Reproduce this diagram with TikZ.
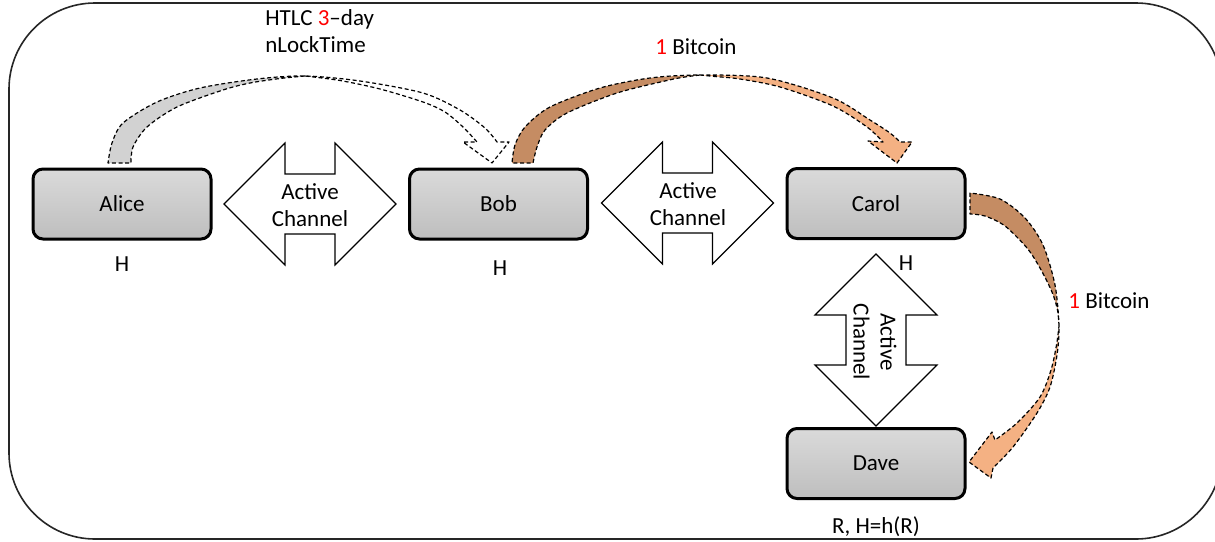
\documentclass[tikz,border=0pt]{standalone}
\usepackage{fontspec}
\setmainfont{Carlito}
\definecolor{boxtop}{RGB}{218,218,218}
\definecolor{boxbot}{RGB}{190,190,190}
\definecolor{paydark}{RGB}{197,140,99}
\definecolor{paylight}{RGB}{244,177,131}
\definecolor{htlcdark}{RGB}{210,210,210}
\begin{document}
\begin{tikzpicture}[x=0.5pt,y=-0.5pt,
  every node/.style={font=\fontsize{11.5}{13.5}\selectfont, inner sep=0pt},
  person/.style={draw=black, line width=1.5pt, rounded corners=5pt,
    minimum width=89pt, minimum height=35pt, top color=boxtop, bottom color=boxbot},
  flow/.style={draw=black, line width=0.6pt, dash pattern=on 2pt off 1.3pt, line join=round},
  chan/.pic={\draw[line width=0.6pt, fill=white, line join=miter]
    (-86,0) -- (-25,-61) -- (-25,-30) -- (25,-30) -- (25,-61) -- (86,0)
    -- (25,61) -- (25,30) -- (-25,30) -- (-25,61) -- cycle;}
]
\useasboundingbox (0,0) rectangle (1215,541);
\clip (0,0) rectangle (1215,541);

% outer frame
\draw[line width=0.8pt, draw=black!85, rounded corners=43pt] (9,3) rectangle (1222,539);

% parties
\node[person] (alice) at (122,204) {Alice};
\node[person] (bob) at (498.5,204) {Bob};
\node[person] (carol) at (876,203.5) {Carol};
\node[person] (dave) at (876,463.5) {Dave};

% payment channels
\pic at (310,204) {chan};
\pic at (687.5,203) {chan};
\pic[rotate=90] at (876,340) {chan};
\node[align=center] (ch1) at (310,205) {Active\\Channel};
\node[align=center] (ch2) at (688,204) {Active\\Channel};
\node[align=center, rotate=-90] (ch3) at (875,342) {Active\\Channel};

% HTLC offer Alice -> Bob: underside, top side, then one dashed outline
\fill[htlcdark]
  plot[smooth] coordinates {(108,163) (112,143) (123,123) (157,102) (200,88) (257,79) (305,76)}
  -- plot[smooth] coordinates {(305,76) (280,78.5) (250,83) (223,90) (177,107) (147,127) (133,147) (131,163)}
  -- cycle;
\fill[white]
  plot[smooth] coordinates {(305,76) (360,81) (423,93) (460,110) (485,128) (497,142)}
  -- (509,142) -- (492,163) -- (463,142) -- (477,142)
  -- plot[smooth] coordinates {(477,142) (463,127) (445,112) (423,102) (380,89) (340,80.5) (305,76)}
  -- cycle;
\draw[flow]
  plot[smooth] coordinates {(305,76) (280,78.5) (250,83) (223,90) (177,107) (147,127) (133,147) (131,163)}
  -- plot[smooth] coordinates {(108,163) (112,143) (123,123) (157,102) (200,88) (257,79) (305,76) (360,81) (423,93) (460,110) (485,128) (497,142)}
  -- (509,142) -- (492,163) -- (463,142) -- (477,142)
  -- plot[smooth] coordinates {(477,142) (463,127) (445,112) (423,102) (380,89) (340,80.5) (305,76)};

% payment Bob -> Carol
\fill[paydark]
  plot[smooth] coordinates {(512,163) (515,145) (525,127) (550,107) (600,88) (650,78) (700,75)}
  -- plot[smooth] coordinates {(700,75) (685,77) (667,80.5) (617,93) (567,113) (545,130) (537,147) (533,163)}
  -- cycle;
\fill[paylight]
  plot[smooth] coordinates {(700,75) (767,78) (833,98) (870,120) (890,133) (900,142)}
  -- (912,142) -- (897,163) -- (868,141) -- (883,142)
  -- plot[smooth] coordinates {(883,142) (867,127) (833,106) (780,87) (740,79) (715,76.5) (700,75)}
  -- cycle;
\draw[flow]
  plot[smooth] coordinates {(700,75) (685,77) (667,80.5) (617,93) (567,113) (545,130) (537,147) (533,163)}
  -- plot[smooth] coordinates {(512,163) (515,145) (525,127) (550,107) (600,88) (650,78) (700,75) (767,78) (833,98) (870,120) (890,133) (900,142)}
  -- (912,142) -- (897,163) -- (868,141) -- (883,142)
  -- plot[smooth] coordinates {(883,142) (867,127) (833,106) (780,87) (740,79) (715,76.5) (700,75)};

% payment Carol -> Dave
\fill[paydark]
  plot[smooth] coordinates {(970,193) (1000,199) (1025,218) (1043,245) (1055,285) (1059,326)}
  -- plot[smooth] coordinates {(1059,326) (1057.5,310) (1052,292) (1040,268) (1027,248) (1005,226) (985,216) (970,214)}
  -- cycle;
\fill[paylight]
  plot[smooth] coordinates {(1059,326) (1057,355) (1050,387) (1037,413) (1013,447) (993,468)}
  -- (991,478) -- (969,462) -- (992,432) -- (995,440)
  -- plot[smooth] coordinates {(995,440) (1017,423) (1040,397) (1051,370) (1056.5,345) (1059,326)}
  -- cycle;
\draw[flow]
  plot[smooth] coordinates {(1059,326) (1057.5,310) (1052,292) (1040,268) (1027,248) (1005,226) (985,216) (970,214)}
  -- plot[smooth] coordinates {(970,193) (1000,199) (1025,218) (1043,245) (1055,285) (1059,326) (1057,355) (1050,387) (1037,413) (1013,447) (993,468)}
  -- (991,478) -- (969,462) -- (992,432) -- (995,440)
  -- plot[smooth] coordinates {(995,440) (1017,423) (1040,397) (1051,370) (1056.5,345) (1059,326)};

% labels
\node[anchor=west, align=left] (htlc) at (265,31) {HTLC {\color{red}3}--day\\nLockTime};
\node (btc1) at (696,47) {{\color{red}1} Bitcoin};
\node (btc2) at (1109,301) {{\color{red}1} Bitcoin};
\node (ha) at (122,264) {H};
\node (hb) at (500,268) {H};
\node (hc) at (906,263) {H};
\node (hd) at (876,527) {R, H=h(R)};
\end{tikzpicture}
\end{document}
